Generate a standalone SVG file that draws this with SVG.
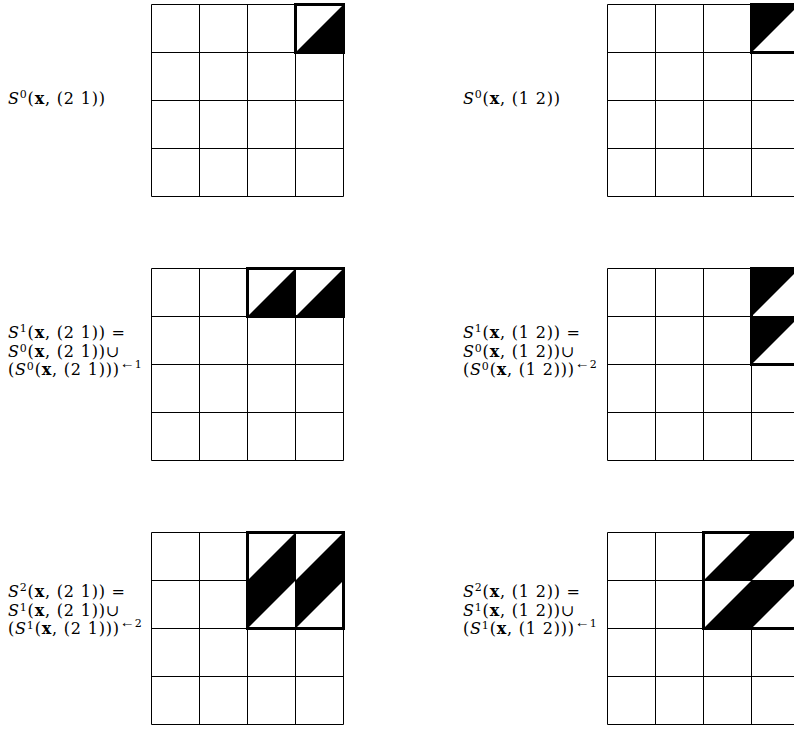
<svg xmlns="http://www.w3.org/2000/svg" xmlns:xlink="http://www.w3.org/1999/xlink" width="794" height="730" viewBox="0 0 794 730">
<style>
.grid line{stroke:#000;stroke-width:1}
.hl{fill:#000;stroke:none}
.frame{fill:none;stroke:#000;stroke-width:3}
.lbl{font-family:"DejaVu Serif","Liberation Serif",serif;font-size:16px;fill:#000;letter-spacing:0.8px}
.it{font-style:italic}
.bf{font-weight:bold}
.sup{font-size:11px}
.arr{font-family:"Liberation Serif","DejaVu Serif",serif;font-size:15px;letter-spacing:0}
.sup2{font-size:11px}
</style>
<defs>
<g id="grid" class="grid">
<line x1="0" y1="0" x2="192" y2="0"/>
<line x1="0" y1="48" x2="192" y2="48"/>
<line x1="0" y1="96" x2="192" y2="96"/>
<line x1="0" y1="144" x2="192" y2="144"/>
<line x1="0" y1="192" x2="192" y2="192"/>
<line x1="0" y1="0" x2="0" y2="192"/>
<line x1="48" y1="0" x2="48" y2="192"/>
<line x1="96" y1="0" x2="96" y2="192"/>
<line x1="144" y1="0" x2="144" y2="192"/>
<line x1="192" y1="0" x2="192" y2="192"/>
</g>
</defs>
<rect width="794" height="730" fill="#fff"/>

<g id="panel-s0-21">
<use xlink:href="#grid" x="151.5" y="4.5"/>
<polygon class="hl" points="295.5,52.5 343.5,4.5 343.5,52.5"/>
<rect class="frame" x="295.5" y="4.5" width="48" height="48"/>
<text class="lbl" x="8" y="104"><tspan class="it">S</tspan><tspan class="sup" dy="-6">0</tspan><tspan dy="6">(</tspan><tspan class="bf">x</tspan>, (2 1))</text>
</g>

<g id="panel-s0-12">
<use xlink:href="#grid" x="607.5" y="4.5"/>
<polygon class="hl" points="751.5,4.5 799.5,4.5 751.5,52.5"/>
<rect class="frame" x="751.5" y="4.5" width="48" height="48"/>
<text class="lbl" x="463" y="104"><tspan class="it">S</tspan><tspan class="sup" dy="-6">0</tspan><tspan dy="6">(</tspan><tspan class="bf">x</tspan>, (1 2))</text>
</g>

<g id="panel-s1-21">
<use xlink:href="#grid" x="151.5" y="268.5"/>
<polygon class="hl" points="247.5,316.5 295.5,268.5 295.5,316.5"/>
<polygon class="hl" points="295.5,316.5 343.5,268.5 343.5,316.5"/>
<rect class="frame" x="247.5" y="268.5" width="96" height="48"/>
<text class="lbl" x="8" y="338"><tspan class="it">S</tspan><tspan class="sup" dy="-6">1</tspan><tspan dy="6">(</tspan><tspan class="bf">x</tspan>, (2 1)) =</text>
<text class="lbl" x="8" y="356.5"><tspan class="it">S</tspan><tspan class="sup" dy="-5">0</tspan><tspan dy="5">(</tspan><tspan class="bf">x</tspan>, (2 1))∪</text>
<text class="lbl" x="8" y="375">(<tspan class="it">S</tspan><tspan class="sup" dy="-5">0</tspan><tspan dy="5">(</tspan><tspan class="bf">x</tspan>, (2 1)))<tspan class="arr" dy="-7">←</tspan><tspan class="sup2">1</tspan></text>
</g>

<g id="panel-s1-12">
<use xlink:href="#grid" x="607.5" y="268.5"/>
<polygon class="hl" points="751.5,268.5 799.5,268.5 751.5,316.5"/>
<polygon class="hl" points="751.5,316.5 799.5,316.5 751.5,364.5"/>
<rect class="frame" x="751.5" y="268.5" width="48" height="96"/>
<text class="lbl" x="463" y="338"><tspan class="it">S</tspan><tspan class="sup" dy="-6">1</tspan><tspan dy="6">(</tspan><tspan class="bf">x</tspan>, (1 2)) =</text>
<text class="lbl" x="463" y="356.5"><tspan class="it">S</tspan><tspan class="sup" dy="-5">0</tspan><tspan dy="5">(</tspan><tspan class="bf">x</tspan>, (1 2))∪</text>
<text class="lbl" x="463" y="375">(<tspan class="it">S</tspan><tspan class="sup" dy="-5">0</tspan><tspan dy="5">(</tspan><tspan class="bf">x</tspan>, (1 2)))<tspan class="arr" dy="-7">←</tspan><tspan class="sup2">2</tspan></text>
</g>

<g id="panel-s2-21">
<use xlink:href="#grid" x="151.5" y="532.5"/>
<polygon class="hl" points="295.5,532.5 295.5,580.5 247.5,628.5 247.5,580.5"/>
<polygon class="hl" points="343.5,532.5 343.5,580.5 295.5,628.5 295.5,580.5"/>
<rect class="frame" x="247.5" y="532.5" width="96" height="96"/>
<text class="lbl" x="8" y="597"><tspan class="it">S</tspan><tspan class="sup" dy="-6">2</tspan><tspan dy="6">(</tspan><tspan class="bf">x</tspan>, (2 1)) =</text>
<text class="lbl" x="8" y="615.5"><tspan class="it">S</tspan><tspan class="sup" dy="-5">1</tspan><tspan dy="5">(</tspan><tspan class="bf">x</tspan>, (2 1))∪</text>
<text class="lbl" x="8" y="634">(<tspan class="it">S</tspan><tspan class="sup" dy="-5">1</tspan><tspan dy="5">(</tspan><tspan class="bf">x</tspan>, (2 1)))<tspan class="arr" dy="-7">←</tspan><tspan class="sup2">2</tspan></text>
</g>

<g id="panel-s2-12">
<use xlink:href="#grid" x="607.5" y="532.5"/>
<polygon class="hl" points="703.5,580.5 751.5,532.5 799.5,532.5 751.5,580.5"/>
<polygon class="hl" points="703.5,628.5 751.5,580.5 799.5,580.5 751.5,628.5"/>
<rect class="frame" x="703.5" y="532.5" width="96" height="96"/>
<text class="lbl" x="463" y="597"><tspan class="it">S</tspan><tspan class="sup" dy="-6">2</tspan><tspan dy="6">(</tspan><tspan class="bf">x</tspan>, (1 2)) =</text>
<text class="lbl" x="463" y="615.5"><tspan class="it">S</tspan><tspan class="sup" dy="-5">1</tspan><tspan dy="5">(</tspan><tspan class="bf">x</tspan>, (1 2))∪</text>
<text class="lbl" x="463" y="634">(<tspan class="it">S</tspan><tspan class="sup" dy="-5">1</tspan><tspan dy="5">(</tspan><tspan class="bf">x</tspan>, (1 2)))<tspan class="arr" dy="-7">←</tspan><tspan class="sup2">1</tspan></text>
</g>
</svg>
